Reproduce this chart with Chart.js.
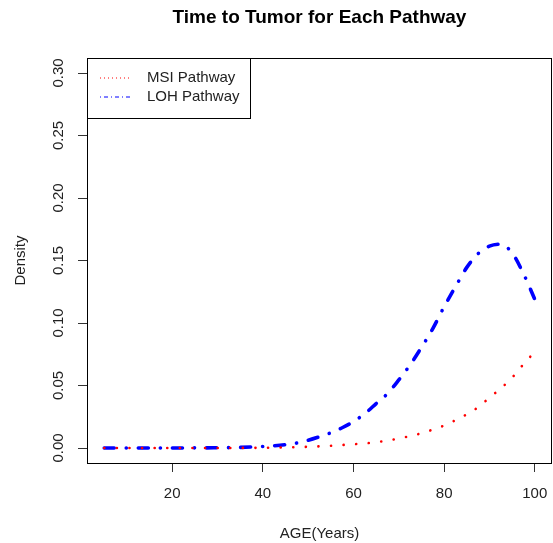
<!DOCTYPE html>
<html>
<head>
<meta charset="utf-8">
<script src="https://cdn.jsdelivr.net/npm/chart.js@4/dist/chart.umd.min.js"></script>
<style>
  html, body { margin: 0; padding: 0; background: #fff; }
  #wrap { width: 553px; height: 543px; }
</style>
</head>
<body>
<div id="wrap"><canvas id="tumorChart" width="553" height="543"></canvas></div>
<script>
// 年龄网格（横轴）
const ages = [5, 7.5, 10, 12.5, 15, 17.5, 20, 22.5, 25, 27.5, 30, 32.5, 35, 37.5, 40,
    42.5, 45, 47.5, 50, 52.5, 55, 57.5, 60, 62.5, 65, 67.5, 70, 72.5, 75, 77.5,
    80, 82.5, 85, 87.5, 90, 92.5, 95, 97.5, 100];

// MSI 通路密度（红色点线）
const msiDensity = [0, 0, 0, 0, 0, 0, 0, 0, 0, 0, 0, 0, 0.0001, 0.0001, 0.0002,
    0.0003, 0.0005, 0.0007, 0.001, 0.0013, 0.0018, 0.0024, 0.003, 0.0037, 0.0046,
    0.006, 0.0076, 0.0095, 0.0118, 0.0147, 0.018, 0.0223, 0.027, 0.0326, 0.0403,
    0.0477, 0.0563, 0.067, 0.077];

// LOH 通路密度（蓝色点划线）
const lohDensity = [0, 0, 0, 0, 0, 0, 0, 0, 0.0001, 0.0001, 0.0002, 0.0003, 0.0005,
    0.0008, 0.0012, 0.0018, 0.0027, 0.004, 0.0062, 0.009, 0.0122, 0.0162, 0.0212,
    0.0275, 0.0355, 0.0435, 0.0545, 0.0665, 0.0805, 0.0955, 0.113, 0.129, 0.1445,
    0.1555, 0.1615, 0.163, 0.156, 0.1395, 0.119];

// 刻度
const xTicks = [20, 40, 60, 80, 100];
const yTicks = [0, 0.05, 0.10, 0.15, 0.20, 0.25, 0.30];

const chartTitle = 'Time to Tumor for Each Pathway';
const FONT = '"Liberation Sans", Arial, Helvetica, sans-serif';
const TEXT = '#222';

function toPoints(ys) {
    return ages.map((a, i) => ({ x: a, y: ys[i] }));
}

// 绘图区外框、标题、图例（R 风格）
const boxAndLegend = {
    id: 'boxAndLegend',
    afterDraw(chart) {
        const ctx = chart.ctx;
        const a = chart.chartArea;
        ctx.save();
        ctx.strokeStyle = '#000';
        ctx.lineWidth = 1;
        ctx.strokeRect(a.left + 0.5, a.top + 0.5, a.right - a.left - 1, a.bottom - a.top);

        // 标题居中于绘图区
        ctx.fillStyle = '#000';
        ctx.font = 'bold 19px ' + FONT;
        ctx.textAlign = 'center';
        ctx.textBaseline = 'middle';
        ctx.fillText(chartTitle, (a.left + a.right) / 2, 18);

        // 图例框
        const lx = a.left, ly = a.top, lw = 163, lh = 60;
        ctx.strokeRect(lx + 0.5, ly + 0.5, lw, lh);
        ctx.font = '15px ' + FONT;
        ctx.textAlign = 'left';
        ctx.fillStyle = TEXT;
        chart.data.datasets.forEach((ds, i) => {
            const y = ly + 20 + i * 19;
            ctx.beginPath();
            ctx.strokeStyle = ds.borderColor;
            ctx.lineWidth = 1;
            ctx.setLineDash(i === 0 ? [1, 3] : [1, 3, 4, 3]);
            ctx.moveTo(lx + 13, y);
            ctx.lineTo(lx + 44, y);
            ctx.stroke();
            ctx.setLineDash([]);
            ctx.fillText(ds.label, lx + 60, y);
        });
        ctx.restore();
    }
};

new Chart(document.getElementById('tumorChart'), {
    type: 'line',
    data: {
        datasets: [
            {
                label: 'MSI Pathway',
                data: toPoints(msiDensity),
                borderColor: '#ff0000',
                borderWidth: 2.6,
                borderDash: [0.1, 12.5],
                borderCapStyle: 'round',
                pointRadius: 0,
                cubicInterpolationMode: 'monotone',
                fill: false
            },
            {
                label: 'LOH Pathway',
                data: toPoints(lohDensity),
                borderColor: '#0000ff',
                borderWidth: 3.6,
                borderDash: [10, 12, 0.1, 12],
                borderCapStyle: 'round',
                pointRadius: 0,
                cubicInterpolationMode: 'monotone',
                fill: false
            }
        ]
    },
    options: {
        responsive: false,
        animation: false,
        events: [],
        layout: { padding: { left: 0, right: 1, top: 58, bottom: 0 } },
        plugins: {
            legend: { display: false },
            tooltip: { enabled: false },
            title: { display: false }
        },
        scales: {
            x: {
                type: 'linear',
                min: 1.2,
                max: 103.8,
                afterBuildTicks(scale) { scale.ticks = xTicks.map(v => ({ value: v })); },
                afterFit(scale) {
                    scale.height = 80;
                    scale.paddingLeft = 0;
                    scale.paddingRight = 0;
                },
                border: { display: false },
                grid: { drawOnChartArea: false, drawTicks: true, tickLength: 9, color: '#333' },
                ticks: {
                    color: TEXT,
                    font: { family: FONT, size: 15 },
                    padding: 13,
                    maxRotation: 0,
                    autoSkip: false
                },
                title: {
                    display: true,
                    text: 'AGE(Years)',
                    color: TEXT,
                    font: { family: FONT, size: 15 },
                    padding: { top: 0, bottom: 0 }
                }
            },
            y: {
                type: 'linear',
                min: -0.012,
                max: 0.312,
                afterBuildTicks(scale) { scale.ticks = yTicks.map(v => ({ value: v })); },
                afterFit(scale) {
                    scale.width = 87;
                    scale.paddingTop = 0;
                    scale.paddingBottom = 0;
                },
                border: { display: false },
                grid: { drawOnChartArea: false, drawTicks: true, tickLength: 9, color: '#333' },
                ticks: {
                    color: TEXT,
                    font: { family: FONT, size: 15 },
                    padding: 5,
                    minRotation: 90,
                    maxRotation: 90,
                    crossAlign: 'center',
                    autoSkip: false,
                    callback: v => v.toFixed(2)
                },
                title: {
                    display: true,
                    text: 'Density',
                    color: TEXT,
                    font: { family: FONT, size: 15 },
                    padding: { top: 12, bottom: 0 }
                }
            }
        }
    },
    plugins: [boxAndLegend]
});
</script>
</body>
</html>
